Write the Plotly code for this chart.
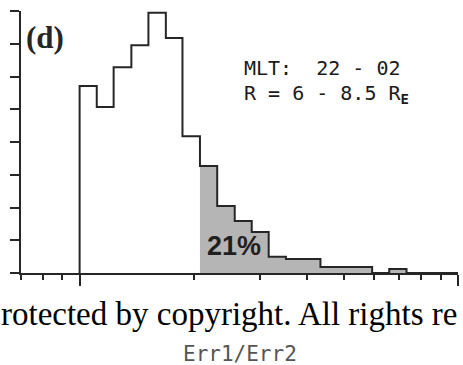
import plotly.graph_objects as go

# Histogram of the error ratio, log-spaced bins from 1 to 10
bin_edges = [1.00, 1.11, 1.23, 1.37, 1.52, 1.69, 1.87, 2.08, 2.31, 2.57, 2.85, 3.16,
             3.51, 3.90, 4.33, 4.81, 5.34, 5.93, 6.58, 7.31, 8.11, 9.01, 10.0]
counts = [57.1, 50.7, 62.9, 69.6, 79.5, 71.8, 41.8, 32.7, 20.5, 15.9, 12.5, 5.0,
          4.3, 4.3, 1.8, 1.8, 1.8, 0.0, 1.2, 0.0, 0.0, 0.0]
shade_from = 7  # first bin of the shaded tail (Err1/Err2 > 2)

y_ticks = [0, 10, 20, 30, 40, 50, 60, 70, 80]
x_major = [1, 10]
x_major_text = ["1", "10"]
x_minor = [0.7, 0.8, 0.9, 2, 3, 4, 5, 6, 7, 8, 9]

tail_label = "21%"
region_lines = ["MLT:  22 - 02", "R = 6 - 8.5 R<sub><b>E</b></sub>"]
panel_label = "<b>(d)</b>"
x_title = "Err1/Err2"
notice = "rotected by copyright. All rights re"

ink = "#262626"


def step_outline(edges, vals):
    xs = [edges[0]] + list(edges[:-1]) + [edges[-1]]
    ys = [0] + list(vals) + [0]
    return xs, ys


fig = go.Figure()

tx, ty = step_outline(bin_edges[shade_from:], counts[shade_from:])
fig.add_trace(go.Scatter(x=tx, y=ty, mode="lines", line_shape="hv",
                         line=dict(width=0, color="rgba(0,0,0,0)"),
                         fill="tozeroy", fillcolor="#b5b5b5",
                         hoverinfo="skip", showlegend=False))

ox, oy = step_outline(bin_edges, counts)
fig.add_trace(go.Scatter(x=ox, y=oy, mode="lines", line_shape="hv",
                         line=dict(width=2, color=ink),
                         hoverinfo="skip", showlegend=False))

fig.update_layout(
    width=463, height=365,
    margin=dict(l=21, r=5, t=11, b=92),
    paper_bgcolor="white", plot_bgcolor="white",
    showlegend=False,
    xaxis=dict(
        type="log", range=[-0.1549, 1.0],
        showgrid=False, zeroline=False,
        showline=True, linecolor=ink, linewidth=2,
        ticks="outside", tickvals=x_major, ticktext=x_major_text,
        ticklen=11, tickwidth=2, tickcolor=ink,
        tickfont=dict(family="Liberation Sans, Arial", size=18, color="#777"),
        ticklabelstandoff=14,
        minor=dict(tickvals=x_minor, ticks="outside", ticklen=5,
                   tickwidth=2, tickcolor=ink, showgrid=False),
    ),
    yaxis=dict(
        range=[0, 80.05],
        showgrid=False, zeroline=False,
        showline=True, linecolor=ink, linewidth=2,
        ticks="outside", tickvals=y_ticks, ticklen=9, tickwidth=2,
        tickcolor=ink, showticklabels=False,
    ),
)

mono = "DejaVu Sans Mono, monospace"
annotations = [
    dict(text=panel_label, x=0.054, y=0.899, xanchor="center", yanchor="middle",
         font=dict(family="Liberation Serif, Times New Roman", size=31, color=ink)),
    dict(text=region_lines[0], x=0.506, y=0.781, xanchor="left", yanchor="middle",
         font=dict(family=mono, size=20, color="#1a1a1a")),
    dict(text=region_lines[1], x=0.506, y=0.685, xanchor="left", yanchor="middle",
         font=dict(family=mono, size=20, color="#1a1a1a")),
    dict(text="<b>" + tail_label + "</b>", x=0.487, y=0.103,
         xanchor="center", yanchor="middle",
         font=dict(family="Liberation Sans, Arial", size=27, color="#1f1f1f")),
    dict(text=notice, x=-0.048, y=-0.156, xanchor="left", yanchor="middle",
         bgcolor="rgba(255,255,255,0.75)", borderpad=0,
         font=dict(family="Liberation Serif, Times New Roman", size=33, color="black")),
    dict(text=x_title, x=0.501, y=-0.309, xanchor="center", yanchor="middle",
         font=dict(family=mono, size=21, color="#555")),
]
for a in annotations:
    a.update(xref="paper", yref="paper", showarrow=False)
fig.update_layout(annotations=annotations)

fig.write_html("out.html")
